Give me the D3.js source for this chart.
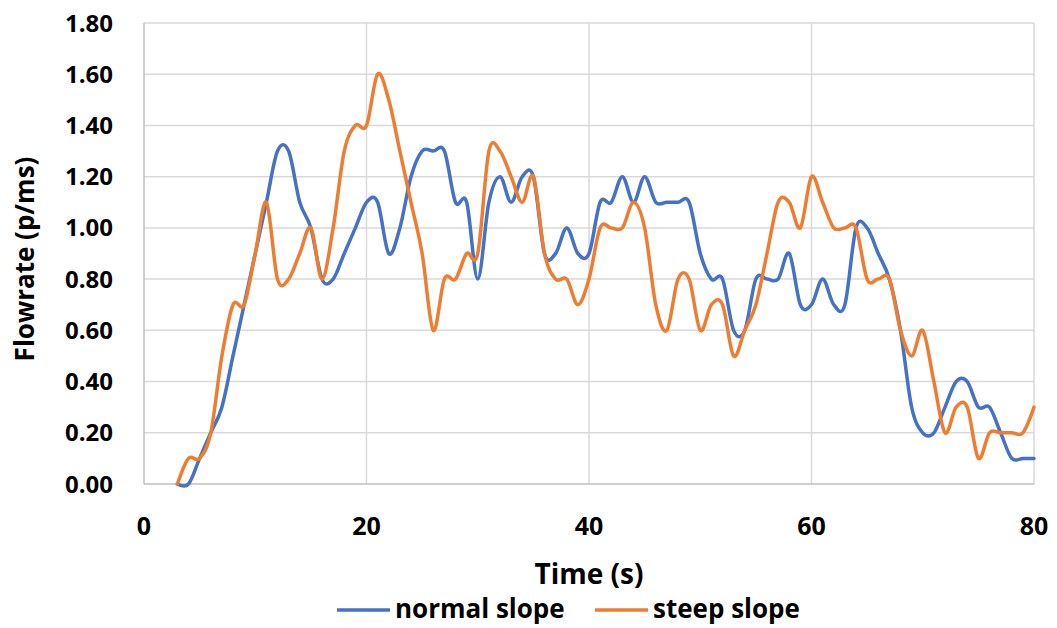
<!DOCTYPE html>
<html>
<head>
<meta charset="utf-8">
<script src="https://cdn.jsdelivr.net/npm/d3@7"></script>
<style>
  html, body { margin: 0; padding: 0; background: #ffffff; }
  svg { display: block; }
  text { font-family: "Open Sans", "Liberation Sans", sans-serif; font-weight: bold; fill: #000; }
</style>
</head>
<body>
<svg id="chart" width="1057" height="628"></svg>
<script>
// ---- data ----
const times = d3.range(3, 81); // 3..80 s
const normalSlope = [
  0, 0, 0.1, 0.2, 0.3, 0.5, 0.7, 0.9, 1.1, 1.3,
  1.3, 1.1, 1.0, 0.8, 0.8, 0.9, 1.0, 1.1, 1.1, 0.9,
  1.0, 1.2, 1.3, 1.3, 1.3, 1.1, 1.1, 0.8, 1.1, 1.2,
  1.1, 1.2, 1.2, 0.9, 0.9, 1.0, 0.9, 0.9, 1.1, 1.1,
  1.2, 1.1, 1.2, 1.1, 1.1, 1.1, 1.1, 0.9, 0.8, 0.8,
  0.6, 0.6, 0.8, 0.8, 0.8, 0.9, 0.7, 0.7, 0.8, 0.7,
  0.7, 1.0, 1.0, 0.9, 0.8, 0.6, 0.3, 0.2, 0.2, 0.3,
  0.4, 0.4, 0.3, 0.3, 0.2, 0.1, 0.1, 0.1
];
const steepSlope = [
  0, 0.1, 0.1, 0.2, 0.5, 0.7, 0.7, 0.9, 1.1, 0.8,
  0.8, 0.9, 1.0, 0.8, 1.0, 1.3, 1.4, 1.4, 1.6, 1.5,
  1.3, 1.1, 0.9, 0.6, 0.8, 0.8, 0.9, 0.9, 1.3, 1.3,
  1.2, 1.1, 1.2, 0.9, 0.8, 0.8, 0.7, 0.8, 1.0, 1.0,
  1.0, 1.1, 1.0, 0.7, 0.6, 0.8, 0.8, 0.6, 0.7, 0.7,
  0.5, 0.6, 0.7, 0.9, 1.1, 1.1, 1.0, 1.2, 1.1, 1.0,
  1.0, 1.0, 0.8, 0.8, 0.8, 0.6, 0.5, 0.6, 0.4, 0.2,
  0.3, 0.3, 0.1, 0.2, 0.2, 0.2, 0.2, 0.3
];
const seriesNames = ["normal slope", "steep slope"];
const seriesColors = ["#4472C4", "#ED7D31"];
const xTicks = [0, 20, 40, 60, 80];
const yTicks = [0, 0.2, 0.4, 0.6, 0.8, 1.0, 1.2, 1.4, 1.6, 1.8];
const xTitle = "Time (s)";
const yTitle = "Flowrate (p/ms)";

// ---- layout ----
const svg = d3.select("#chart");
const plot = { left: 144, right: 1034, top: 23, bottom: 484 };

const x = d3.scaleLinear().domain([0, 80]).range([plot.left, plot.right]);
const y = d3.scaleLinear().domain([0, 1.8]).range([plot.bottom, plot.top]);

// horizontal gridlines
svg.append("g").selectAll("line").data(yTicks.filter(d => d > 0)).join("line")
  .attr("x1", plot.left).attr("x2", plot.right)
  .attr("y1", d => y(d)).attr("y2", d => y(d))
  .attr("stroke", "#d9d9d9").attr("stroke-width", 1.5);
// vertical gridlines
svg.append("g").selectAll("line").data(xTicks.filter(d => d > 0)).join("line")
  .attr("x1", d => x(d)).attr("x2", d => x(d))
  .attr("y1", plot.top).attr("y2", plot.bottom)
  .attr("stroke", "#d9d9d9").attr("stroke-width", 1.5);
// axis lines
svg.append("line").attr("x1", plot.left).attr("x2", plot.left)
  .attr("y1", plot.top).attr("y2", plot.bottom)
  .attr("stroke", "#bfbfbf").attr("stroke-width", 1.5);
svg.append("line").attr("x1", plot.left).attr("x2", plot.right)
  .attr("y1", plot.bottom).attr("y2", plot.bottom)
  .attr("stroke", "#bfbfbf").attr("stroke-width", 1.5);

// y tick labels
svg.append("g").selectAll("text").data(yTicks).join("text")
  .attr("x", 113).attr("y", d => y(d) + 8.5)
  .attr("text-anchor", "end").style("font-size", "24px")
  .text(d => d3.format(".2f")(d));
// x tick labels
svg.append("g").selectAll("text").data(xTicks).join("text")
  .attr("x", d => x(d)).attr("y", 535)
  .attr("text-anchor", "middle").style("font-size", "25px")
  .text(d => d);

// axis titles
svg.append("text").attr("x", 589).attr("y", 584)
  .attr("text-anchor", "middle").style("font-size", "28px").text(xTitle);
svg.append("text").attr("transform", "translate(34,259) rotate(-90)")
  .attr("text-anchor", "middle").style("font-size", "26px").text(yTitle);

// lines
const line = d3.line()
  .x((d, i) => x(times[i]))
  .y(d => y(d))
  .curve(d3.curveCatmullRom.alpha(0));
[normalSlope, steepSlope].forEach((vals, k) => {
  svg.append("path").datum(vals)
    .attr("d", line)
    .attr("fill", "none")
    .attr("stroke", seriesColors[k])
    .attr("stroke-width", 3.5)
    .attr("stroke-linejoin", "round")
    .attr("stroke-linecap", "round");
});

// legend
const legendX = [337, 595];
const lg = svg.append("g");
seriesNames.forEach((name, k) => {
  lg.append("line").attr("x1", legendX[k]).attr("x2", legendX[k] + 53)
    .attr("y1", 610).attr("y2", 610)
    .attr("stroke", seriesColors[k]).attr("stroke-width", 3.5);
  lg.append("text").attr("x", legendX[k] + 58).attr("y", 618)
    .style("font-size", "26px").text(name);
});
</script>
</body>
</html>
